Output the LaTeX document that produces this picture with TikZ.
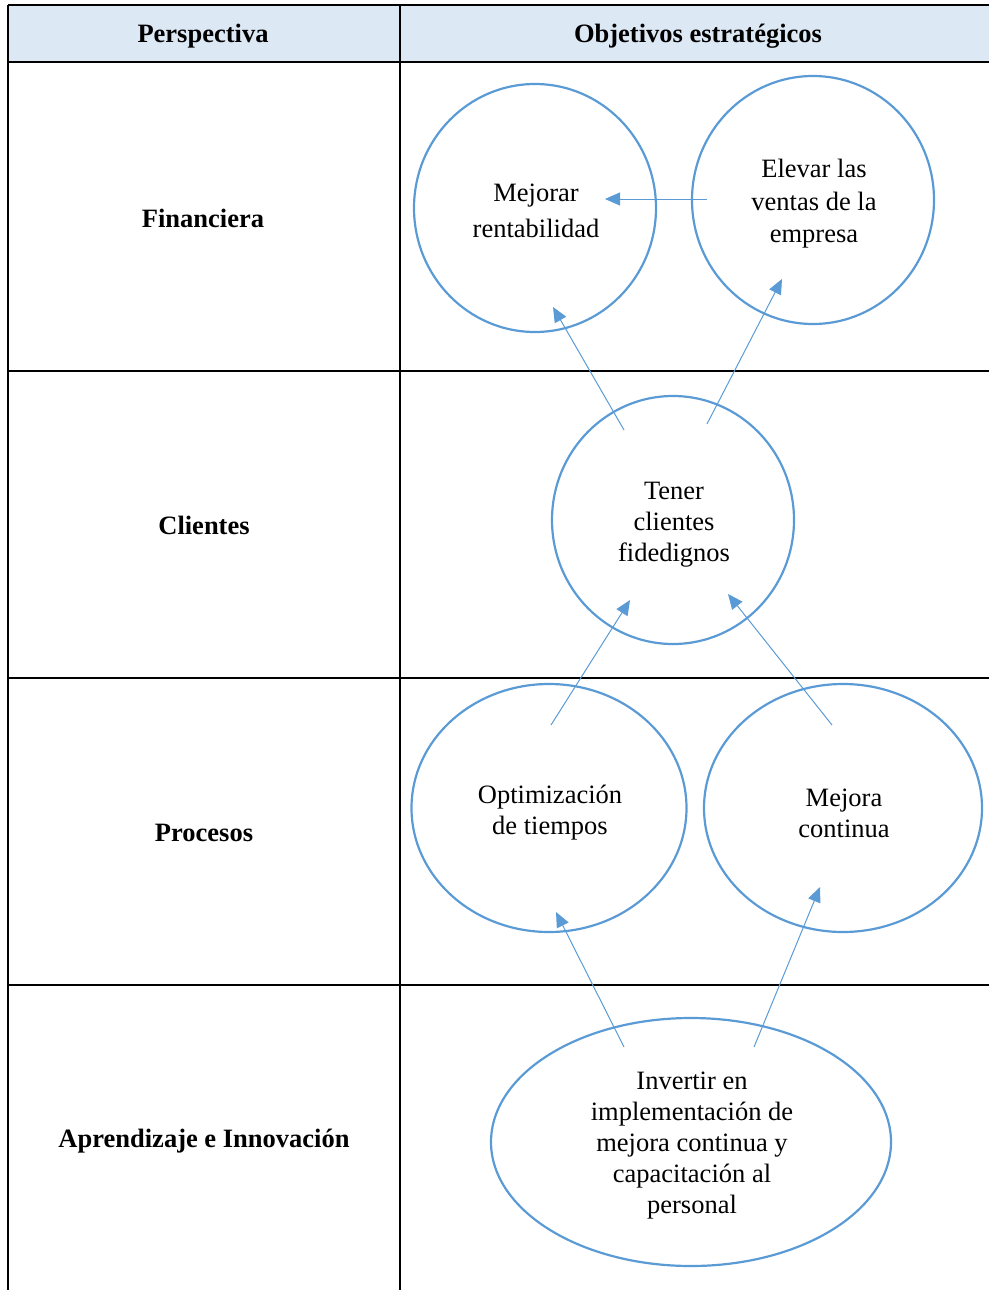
\documentclass[tikz,border=0pt]{standalone}
\usepackage{fontspec}
\setmainfont{Liberation Serif}
\usetikzlibrary{arrows.meta,shapes.geometric}
\definecolor{headblue}{HTML}{DDE8F5}
\definecolor{lineblue}{HTML}{5B9BD5}
\begin{document}
\begin{tikzpicture}[x=1pt,y=-1pt,
  grid/.style={black,line width=2pt},
  goal/.style={ellipse,draw=lineblue,line width=2.2pt,inner sep=0pt},
  goaltext/.style={align=center,font=\fontsize{26.5}{31}\selectfont},
  rowlabel/.style={font=\fontsize{26.5}{30}\selectfont\bfseries},
  link/.style={lineblue,line width=1pt,-{Triangle[length=15pt,width=13pt]}}]
\useasboundingbox (0,0) rectangle (989,1290);
% header band
\fill[headblue] (8,5) rectangle (989,62);
\draw[black,line width=1.3pt] (8,5) -- (989,5);
\draw[black,line width=2.6pt] (8,62) -- (989,62);
\foreach \y in {371,678,985} \draw[grid] (8,\y) -- (989,\y);
\draw[grid] (8,5) -- (8,1290);
\draw[grid] (400,5) -- (400,1290);
% column and row headings
\node[rowlabel] (hp) at (203,36) {Perspectiva};
\node[rowlabel] (ho) at (698,36) {Objetivos estratégicos};
\node[rowlabel] (rf) at (203,218) {Financiera};
\node[rowlabel] (rc) at (204,525) {Clientes};
\node[rowlabel] (rp) at (204,833) {Procesos};
\node[rowlabel] (ra) at (204,1141) {Aprendizaje e Innovación};
% strategic objectives
\node[goal,minimum width=242pt,minimum height=248pt] (mr) at (535,208) {};
\node[goaltext,font=\fontsize{26.5}{36}\selectfont] (mrt) at (536,211) {Mejorar\\rentabilidad};
\node[goal,minimum width=242pt,minimum height=248pt] (ev) at (813,200) {};
\node[goaltext,font=\fontsize{26.5}{32.5}\selectfont] (evt) at (814,204) {Elevar las\\ventas de la\\empresa};
\node[goal,minimum width=242pt,minimum height=248pt] (tc) at (673,520) {};
\node[goaltext] (tct) at (674,525) {Tener\\clientes\\fidedignos};
\node[goal,minimum width=275pt,minimum height=248pt] (ot) at (549,808) {};
\node[goaltext] (ott) at (550,813) {Optimización\\de tiempos};
\node[goal,minimum width=278pt,minimum height=248pt] (mc) at (843,808) {};
\node[goaltext] (mct) at (844,813) {Mejora\\continua};
\node[goal,minimum width=400pt,minimum height=248pt] (iv) at (691,1142) {};
\node[goaltext] (ivt) at (692,1146) {Invertir en\\implementación de\\mejora continua y\\capacitación al\\personal};
% connector end points
\coordinate (a1s) at (707,199);  \coordinate (a1e) at (605,199);
\coordinate (a2s) at (624,430);  \coordinate (a2e) at (553,307);
\coordinate (a3s) at (707,424);  \coordinate (a3e) at (782,279);
\coordinate (a4s) at (551,725);  \coordinate (a4e) at (630,600);
\coordinate (a5s) at (832,725);  \coordinate (a5e) at (728,594);
\coordinate (a6s) at (624,1047); \coordinate (a6e) at (556,912);
\coordinate (a7s) at (754,1047); \coordinate (a7e) at (820,887);
\draw[link] (a1s) -- (a1e);
\draw[link] (a2s) -- (a2e);
\draw[link] (a3s) -- (a3e);
\draw[link] (a4s) -- (a4e);
\draw[link] (a5s) -- (a5e);
\draw[link] (a6s) -- (a6e);
\draw[link] (a7s) -- (a7e);
\end{tikzpicture}
\end{document}
